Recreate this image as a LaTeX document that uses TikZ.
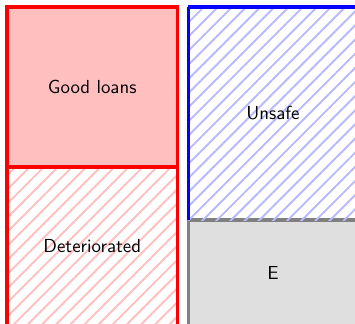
\documentclass[tikz,border=0pt]{standalone}
\usetikzlibrary{patterns.meta}
\begin{document}
\begin{tikzpicture}[x=0.53pt,y=-0.53pt,
  box/.style={line width=1.6pt},
  lbl/.style={font=\sffamily},
  redhatch/.style={pattern={Lines[angle=45,distance=5.3pt,line width=1pt]},pattern color=red!25},
  bluehatch/.style={pattern={Lines[angle=45,distance=5.3pt,line width=1pt]},pattern color=blue!28}]
\useasboundingbox (0,0) rectangle (355,324);
\clip (0,0) rectangle (355,324);
% deteriorated
\fill[white] (7,167) rectangle (177.5,326);
\path[redhatch] (7,167) rectangle (177.5,326);
\draw[box,red] (7,167) rectangle (177.5,326);
\node[lbl] (det) at (92.25,246.5) {Deteriorated};
% good loans
\draw[box,red,fill=red!25] (7,7) rectangle (177.5,167);
\node[lbl] (good) at (92.25,87) {Good loans};
% E
\draw[box,gray,fill=gray!25] (188.5,220) rectangle (357.5,326);
\node[lbl] (e) at (273,273) {E};
% unsafe
\path[bluehatch] (188.5,7) rectangle (357.5,220);
\draw[box,blue] (188.5,7) -- (188.5,220) (188.5,7) -- (357.5,7);
\node[lbl] (unsafe) at (273,113.5) {Unsafe};
\end{tikzpicture}
\end{document}
